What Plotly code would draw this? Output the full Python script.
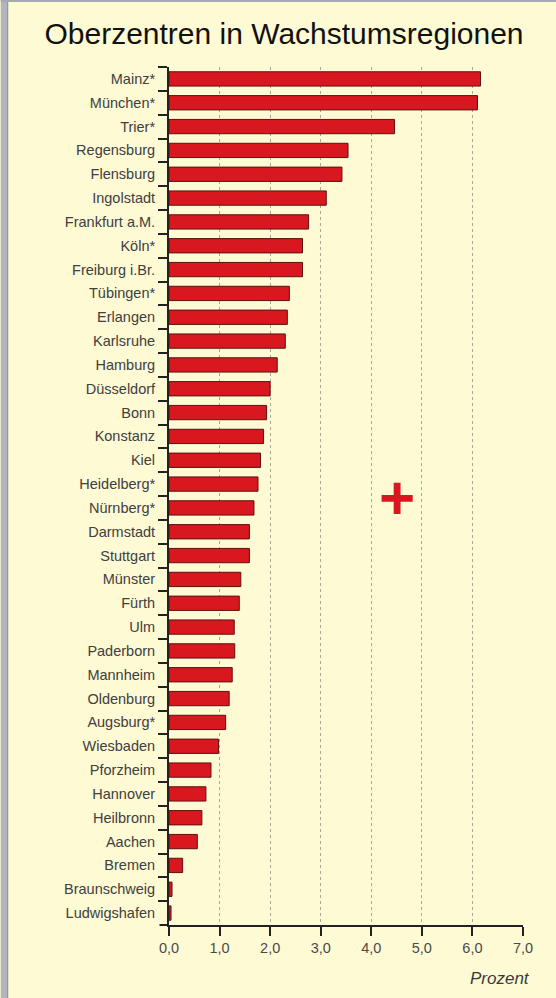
import plotly.graph_objects as go

cities = ["Mainz*", "München*", "Trier*", "Regensburg", "Flensburg", "Ingolstadt",
          "Frankfurt a.M.", "Köln*", "Freiburg i.Br.", "Tübingen*", "Erlangen",
          "Karlsruhe", "Hamburg", "Düsseldorf", "Bonn", "Konstanz", "Kiel",
          "Heidelberg*", "Nürnberg*", "Darmstadt", "Stuttgart", "Münster", "Fürth",
          "Ulm", "Paderborn", "Mannheim", "Oldenburg", "Augsburg*", "Wiesbaden",
          "Pforzheim", "Hannover", "Heilbronn", "Aachen", "Bremen", "Braunschweig",
          "Ludwigshafen"]
values = [6.16, 6.10, 4.46, 3.54, 3.42, 3.11,
          2.76, 2.64, 2.64, 2.38, 2.34,
          2.30, 2.14, 2.00, 1.93, 1.87, 1.81,
          1.76, 1.68, 1.59, 1.59, 1.42, 1.39,
          1.29, 1.30, 1.25, 1.19, 1.12, 0.98,
          0.83, 0.73, 0.65, 0.56, 0.27, 0.06,
          0.04]
x_ticks = [0, 1, 2, 3, 4, 5, 6, 7]

BG = "#fdfad4"
W, H = 556, 998
L, R, T, B = 168.5, 33, 67, 73
pw = W - L - R
ph = H - T - B

def px_x(p):
    return (p - L) / pw

def px_y(p):
    return 1 - (p - T) / ph

FONT = "Liberation Sans, Arial, Helvetica, sans-serif"

fig = go.Figure()
fig.add_trace(go.Bar(
    x=values, y=cities, orientation="h",
    marker=dict(color="#d8181e", line=dict(color="#5a1212", width=1)),
    width=0.6, hoverinfo="x+y",
))

fig.update_layout(
    width=W, height=H,
    paper_bgcolor=BG, plot_bgcolor=BG,
    margin=dict(l=L, r=R, t=T, b=B, pad=0),
    separators=",.",
    showlegend=False,
    font=dict(family=FONT, color="#3a3a3a", size=14),
    title=dict(text="Oberzentren in Wachstumsregionen", xref="container",
               x=284 / W, xanchor="center", y=1 - 33 / H, yanchor="middle",
               font=dict(size=30, color="#111111", family=FONT)),
)

fig.update_xaxes(
    range=[0, 7], tickvals=x_ticks, tickformat=".1f",
    showgrid=True, gridcolor="#a8a894", griddash="dot", gridwidth=1,
    showline=True, linecolor="#222222", linewidth=2,
    ticks="outside", ticklen=9, tickwidth=2, tickcolor="#222222",
    tickfont=dict(size=14.5, color="#4a4a4a"),
    zeroline=False, fixedrange=True,
)
fig.update_yaxes(
    type="category", autorange="reversed",
    tickson="boundaries", ticks="outside", ticklen=9, tickwidth=2,
    tickcolor="#222222",
    showline=True, linecolor="#222222", linewidth=2,
    showgrid=False, zeroline=False,
    tickfont=dict(size=14.5, color="#404040"),
    ticklabelstandoff=9, fixedrange=True,
)

# axis line extensions (decorative)
fig.add_shape(type="line", xref="paper", yref="paper",
              x0=px_x(159), x1=0, y0=0, y1=0,
              line=dict(color="#222222", width=2))
fig.add_shape(type="line", xref="paper", yref="paper",
              x0=0, x1=0, y0=0, y1=px_y(935),
              line=dict(color="#222222", width=2))

# left and top frame
fig.add_shape(type="rect", xref="paper", yref="paper",
              x0=px_x(0), x1=px_x(7), y0=px_y(H), y1=px_y(0),
              fillcolor="#b4b4bc", line=dict(width=0), layer="above")
fig.add_shape(type="line", xref="paper", yref="paper",
              x0=px_x(7), x1=px_x(7), y0=px_y(H), y1=px_y(0),
              line=dict(color="#8a8a92", width=1), layer="above")
fig.add_shape(type="rect", xref="paper", yref="paper",
              x0=px_x(0), x1=px_x(W), y0=px_y(2), y1=px_y(0),
              fillcolor="#a8a8b0", line=dict(width=0), layer="above")

# plus sign
fig.add_annotation(text="<b>+</b>", xref="paper", yref="paper",
                   x=px_x(397), y=px_y(497), xanchor="center", yanchor="middle",
                   showarrow=False,
                   font=dict(size=62, color="#d8181e", family=FONT))

# unit label
fig.add_annotation(text="<i>Prozent</i>", xref="paper", yref="paper",
                   x=px_x(532), y=px_y(978), xanchor="right", yanchor="middle",
                   showarrow=False,
                   font=dict(size=17, color="#3a3a3a", family=FONT))

fig.write_html("out.html",
               config={"displayModeBar": False},
               post_script="document.body.style.margin='0';"
                           "document.body.style.background='" + BG + "';")
